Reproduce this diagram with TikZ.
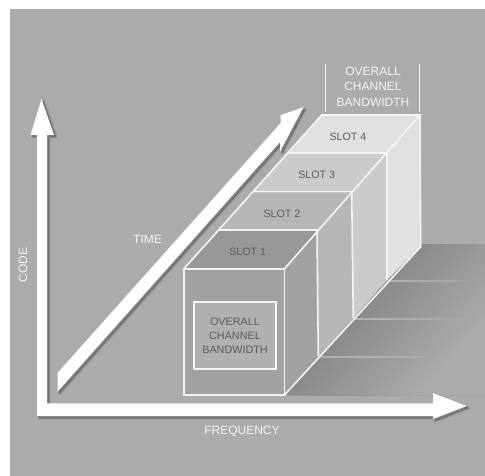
\documentclass[tikz,border=0pt]{standalone}
\usepackage{fontspec}
\setmainfont{Liberation Sans}
\definecolor{bgc}{HTML}{ABABAB}
\definecolor{lnc}{HTML}{F4F4F4}
\definecolor{dark}{HTML}{5C5C5C}
\definecolor{floordark}{HTML}{8A8A8A}
\definecolor{floorln}{HTML}{B2B2B2}
\definecolor{slotA}{HTML}{E0E0E0}
\definecolor{slotB}{HTML}{CBCBCB}
\definecolor{slotC}{HTML}{B6B6B6}
\definecolor{slotDtop}{HTML}{989898}
\definecolor{slotD}{HTML}{A1A1A1}
\definecolor{inner}{HTML}{B0B0B0}
\newcommand{\softshadow}[1]{%
  \foreach \w/\o in {4/.04,2.8/.05,1.6/.06,0.5/.07}{
    \fill[black,opacity=\o,draw=black,line width=\w pt,line join=round,shift={(2pt,-2pt)}] #1;
  }}
\tikzset{
  x=1pt,y=-1pt,
  edge/.style={draw=lnc,line width=1.6pt,line join=miter},
  lab/.style={font=\fontsize{12}{15.6}\selectfont,text=lnc,align=center,inner sep=0pt},
  slotlab/.style={font=\fontsize{10.7}{12}\selectfont,text=dark,inner sep=0pt},
}
\begin{document}
\begin{tikzpicture}
\useasboundingbox (0,0) rectangle (485,476);
\fill[white] (0,0) rectangle (485,476);
\fill[bgc] (10,9.5) rectangle (485,476);

% floor shadow, fading away from the long edge of the block
\begin{scope}
\clip (0,240) rectangle (485,400);
\foreach \s in {0,3,...,135}{
  \pgfmathsetmacro\p{100*\s/135}
  \fill[bgc!\p!floordark] ({284.5+\s},395) -- ({420.7+\s},244) -- (700,244) -- (700,395) -- cycle;
}
\end{scope}
\shade[left color=floorln,right color=bgc!92!black] (386.7,280) rectangle (485,281.1);
\shade[left color=floorln,right color=bgc!97!black] (353,318) rectangle (470,319.1);
\shade[left color=floorln,right color=bgc] (318.3,356) rectangle (425,357.1);

% axes
\softshadow{(37,135) -- (30.5,135) -- (41.5,99) -- (54,135) -- (47,135) -- (47,403.3) -- (433,403.3) -- (433,393) -- (466.7,406) -- (433,419) -- (433,416) -- (37,416) -- cycle}
\fill[white] (37,135) -- (30.5,135) -- (41.5,99) -- (54,135) -- (47,135) -- (47,403.3) -- (433,403.3) -- (433,393) -- (466.7,406) -- (433,419) -- (433,416) -- (37,416) -- cycle;

% diagonal arrow
\softshadow{(57.5,373) -- (280.7,123) -- (280.7,115) -- (303.3,107.3) -- (280,151.7) -- (280,142) -- (57.5,391.7) -- cycle}
\fill[white] (57.5,373) -- (280.7,123) -- (280.7,115) -- (303.3,107.3) -- (280,151.7) -- (280,142) -- (57.5,391.7) -- cycle;

% tops and sides, back to front
\path[fill=slotA] (321.7,115) -- (420,115) -- (386.7,153) -- (288,153) -- cycle;
\path[fill=slotA] (420,115) -- (420.7,246.7) -- (386.7,280) -- (386.7,153) -- cycle;
\path[fill=slotB] (288,153) -- (386.7,153) -- (351.7,191.7) -- (253,191.7) -- cycle;
\path[fill=slotB] (386.7,153) -- (386.7,280) -- (353.3,318) -- (351.7,191.7) -- cycle;
\path[fill=slotC] (253,191.7) -- (351.7,191.7) -- (317,230) -- (218,230) -- cycle;
\path[fill=slotC] (351.7,191.7) -- (353.3,318) -- (318.3,356) -- (317,230) -- cycle;
\path[fill=slotDtop] (218,230) -- (317,230) -- (284.5,268.7) -- (184,268.7) -- cycle;
\path[fill=slotD] (317,230) -- (318.3,356) -- (284.5,395) -- (284.5,268.7) -- cycle;
\path[fill=slotD] (184,268.7) rectangle (284.5,395);
\path[edge,fill=inner] (194,301.7) rectangle (276,369);

% wireframe
\draw[edge] (184,268.7) rectangle (284.5,395);
\draw[edge] (184,268.7) -- (321.7,115) -- (420,115) -- (284.5,268.7);
\draw[edge] (420,115) -- (420.7,246.7) -- (284.5,395);
\draw[edge] (218,230) -- (317,230) -- (318.3,356);
\draw[edge] (253,191.7) -- (351.7,191.7) -- (353.3,318);
\draw[edge] (288,153) -- (386.7,153) -- (386.7,280);
\draw[edge] (325.3,64) -- (325.3,112);
\draw[edge] (419.3,64) -- (419.3,112);

% labels
\node[lab] (top) at (373,86.5) {OVERALL\\CHANNEL\\BANDWIDTH};
\node[slotlab] (s4) at (348,136.7) {SLOT 4};
\node[slotlab] (s3) at (316.7,175.3) {SLOT 3};
\node[slotlab] (s2) at (282,213.7) {SLOT 2};
\node[slotlab] (s1) at (247.7,252) {SLOT 1};
\node[font=\fontsize{10.8}{14}\selectfont,text=dark,align=center,inner sep=0pt] (front) at (235,336.2) {OVERALL\\CHANNEL\\BANDWIDTH};
\node[lab] (time) at (147.5,239) {TIME};
\node[lab,rotate=90] (code) at (23,265) {CODE};
\node[lab] (freq) at (242,431.7) {FREQUENCY};
\end{tikzpicture}
\end{document}
